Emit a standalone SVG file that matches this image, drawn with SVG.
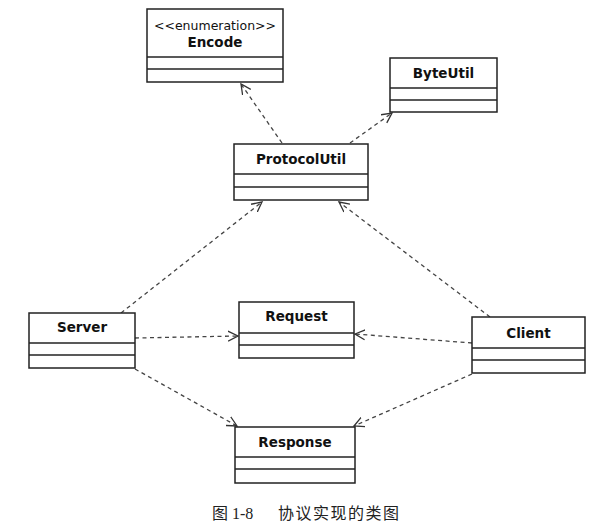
<svg xmlns="http://www.w3.org/2000/svg" width="610" height="529" viewBox="0 0 610 529">
<defs>
<style>
.box{fill:#fff;stroke:#222;stroke-width:1.5}
.div{stroke:#222;stroke-width:1.5}
.name{font-family:"DejaVu Sans","Liberation Sans",sans-serif;font-weight:bold;font-size:13.5px;fill:#111;text-anchor:middle}
.st{font-family:"DejaVu Sans","Liberation Sans",sans-serif;font-size:12.5px;fill:#111;text-anchor:middle}
.dep{fill:none;stroke:#444;stroke-width:1.3;stroke-dasharray:4,3.5}
.cap{font-family:"Liberation Serif","Noto Sans CJK SC",serif;font-size:16px;fill:#222}
</style>
<marker id="open" markerWidth="12" markerHeight="12" refX="10" refY="5" orient="auto" markerUnits="userSpaceOnUse" viewBox="0 0 12 10">
<path d="M0,0 L10,5 L0,10" fill="none" stroke="#333" stroke-width="1.3"/>
</marker>
</defs>
<rect width="610" height="529" fill="#fff"/>
<g id="connectors">
<line class="dep" x1="282" y1="143" x2="241" y2="84" marker-end="url(#open)"/>
<line class="dep" x1="350" y1="143" x2="392" y2="113" marker-end="url(#open)"/>
<line class="dep" x1="121" y1="313" x2="262" y2="202" marker-end="url(#open)"/>
<line class="dep" x1="490" y1="317" x2="339" y2="202" marker-end="url(#open)"/>
<line class="dep" x1="135" y1="338" x2="238" y2="336" marker-end="url(#open)"/>
<line class="dep" x1="472" y1="343" x2="355" y2="334" marker-end="url(#open)"/>
<line class="dep" x1="135" y1="369" x2="237" y2="426" marker-end="url(#open)"/>
<line class="dep" x1="472" y1="374" x2="354" y2="426" marker-end="url(#open)"/>
</g>
<g id="Encode">
<rect class="box" x="147" y="9" width="136" height="73"/>
<line class="div" x1="147" y1="57" x2="283" y2="57"/>
<line class="div" x1="147" y1="69" x2="283" y2="69"/>
<text class="st" x="215" y="30">&lt;&lt;enumeration&gt;&gt;</text>
<text class="name" x="215" y="47">Encode</text>
</g>
<g id="ByteUtil">
<rect class="box" x="390" y="58" width="107" height="54"/>
<line class="div" x1="390" y1="88" x2="497" y2="88"/>
<line class="div" x1="390" y1="100" x2="497" y2="100"/>
<text class="name" x="443.5" y="78">ByteUtil</text>
</g>
<g id="ProtocolUtil">
<rect class="box" x="234" y="144" width="134" height="56"/>
<line class="div" x1="234" y1="174" x2="368" y2="174"/>
<line class="div" x1="234" y1="187" x2="368" y2="187"/>
<text class="name" x="301" y="164">ProtocolUtil</text>
</g>
<g id="Server">
<rect class="box" x="29" y="313" width="106" height="55"/>
<line class="div" x1="29" y1="343" x2="135" y2="343"/>
<line class="div" x1="29" y1="355" x2="135" y2="355"/>
<text class="name" x="82" y="332">Server</text>
</g>
<g id="Request">
<rect class="box" x="239" y="302" width="115" height="56"/>
<line class="div" x1="239" y1="333" x2="354" y2="333"/>
<line class="div" x1="239" y1="345" x2="354" y2="345"/>
<text class="name" x="296.5" y="321">Request</text>
</g>
<g id="Client">
<rect class="box" x="472" y="317" width="113" height="56"/>
<line class="div" x1="472" y1="348" x2="585" y2="348"/>
<line class="div" x1="472" y1="360" x2="585" y2="360"/>
<text class="name" x="528.5" y="338">Client</text>
</g>
<g id="Response">
<rect class="box" x="235" y="427" width="120" height="56"/>
<line class="div" x1="235" y1="457" x2="355" y2="457"/>
<line class="div" x1="235" y1="469" x2="355" y2="469"/>
<text class="name" x="295" y="447">Response</text>
</g>
<text class="cap" x="212" y="519" font-size="17">图 1-8</text>
<text class="cap" x="278" y="519" font-size="17" letter-spacing="1.5">协议实现的类图</text>
</svg>
